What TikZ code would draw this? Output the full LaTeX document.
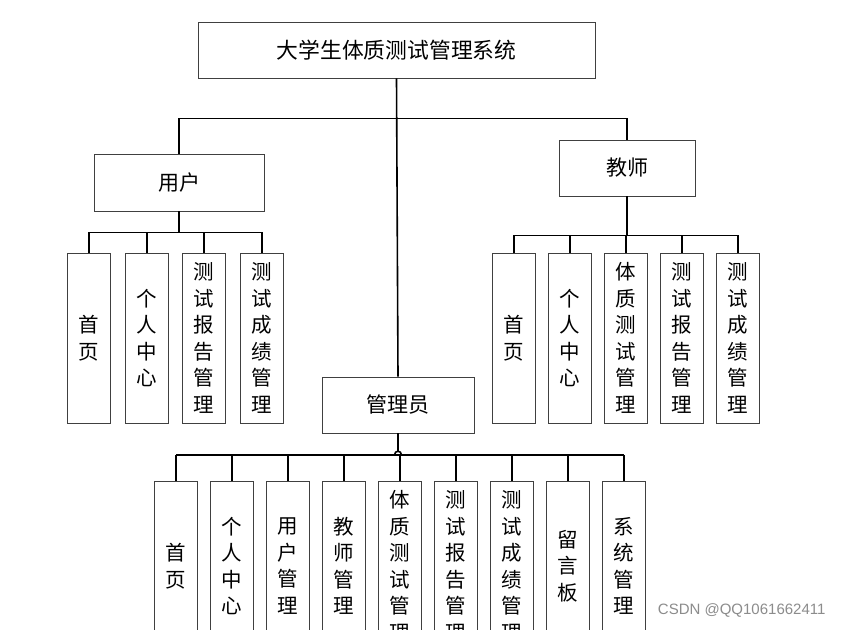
\documentclass[tikz,border=0pt]{standalone}
\usepackage{fontspec}
\newfontfamily\cjk{Noto Sans CJK SC}
\newfontfamily\wmfont{Liberation Sans}
\usetikzlibrary{positioning}
\definecolor{BoxGray}{HTML}{404040}

\begin{document}
\begin{tikzpicture}[x=1pt, y=-1pt,
    box/.style={draw=BoxGray, line width=0.9pt, inner sep=0pt, font=\cjk\fontsize{21}{24}\selectfont},
    vbox/.style={box, minimum width=43pt, minimum height=170pt, text width=43pt, align=center, font=\cjk\fontsize{20.5}{26.5}\selectfont},
    link/.style={line width=1.6pt, black}]
    \useasboundingbox (0,0) rectangle (843,629);
    \clip (0,0) rectangle (843,629);
    \fill[white] (0,0) rectangle (843,629);
    % top levels
    \node[box, minimum width=397pt, minimum height=56pt, font=\cjk\fontsize{21.8}{24}\selectfont] (sys) at (396.5,50) {大学生体质测试管理系统};
    \node[box, minimum width=170pt, minimum height=57pt] (user) at (179,182.5) {用户};
    \node[box, minimum width=136pt, minimum height=56pt] (teacher) at (627,168) {教师};
    \node[box, minimum width=152pt, minimum height=56pt] (admin) at (398,405) {管理员};
    % leaf boxes
    \foreach \x/\t [count=\i] in {89/{首\\页}, 147/{个\\人\\中\\心}, 204/{测\\试\\报\\告\\管\\理}, 262/{测\\试\\成\\绩\\管\\理}} {
        \node[vbox] (u\i) at (\x,338) {\t};
    }
    \foreach \x/\t [count=\i] in {514/{首\\页}, 570/{个\\人\\中\\心}, 626/{体\\质\\测\\试\\管\\理}, 682/{测\\试\\报\\告\\管\\理}, 738/{测\\试\\成\\绩\\管\\理}} {
        \node[vbox] (t\i) at (\x,338) {\t};
    }
    \foreach \t [count=\i] in {{首\\页}, {个\\人\\中\\心}, {用\\户\\管\\理}, {教\\师\\管\\理}, {体\\质\\测\\试\\管\\理}, {测\\试\\报\\告\\管\\理}, {测\\试\\成\\绩\\管\\理}, {留\\言\\板}, {系\\统\\管\\理}} {
        \pgfmathsetmacro{\x}{176+56*(\i-1)}
        \node[vbox] (a\i) at (\x,566) {\t};
    }
    % connectors
    \draw[link] (sys.south) -- (admin.north);
    \draw[link] (user.north) -- ++(0,-35) -| (teacher.north);
    \draw[link] (user.south) -- ++(0,21) coordinate (ub);
    \draw[link] (ub -| u1.north) -- (ub -| u4.north);
    \foreach \i in {1,...,4} \draw[link] (ub -| u\i.north) -- (u\i.north);
    \draw[link] (teacher.south) -- ++(0,39) coordinate (tb);
    \draw[link] (tb -| t1.north) -- (tb -| t5.north);
    \foreach \i in {1,...,5} \draw[link] (tb -| t\i.north) -- (t\i.north);
    \coordinate (ab) at (398,455);
    \draw[link] (ab -| a1.north) -- (ab -| a9.north);
    \foreach \i in {1,...,9} \draw[link] (ab -| a\i.north) -- (a\i.north);
    \draw[link] (admin.south) -- ([yshift=4.5pt]ab);
    \draw[link] ([xshift=-3.5pt]ab) .. controls ([xshift=-3.5pt,yshift=5pt]ab) and ([xshift=3.5pt,yshift=5pt]ab) .. ([xshift=3.5pt]ab);
    % watermark
    \node[text=black!45, font=\wmfont\fontsize{15}{18}\selectfont, anchor=east] (wm) at (829,610) {CSDN @QQ1061662411};
\end{tikzpicture}
\end{document}
